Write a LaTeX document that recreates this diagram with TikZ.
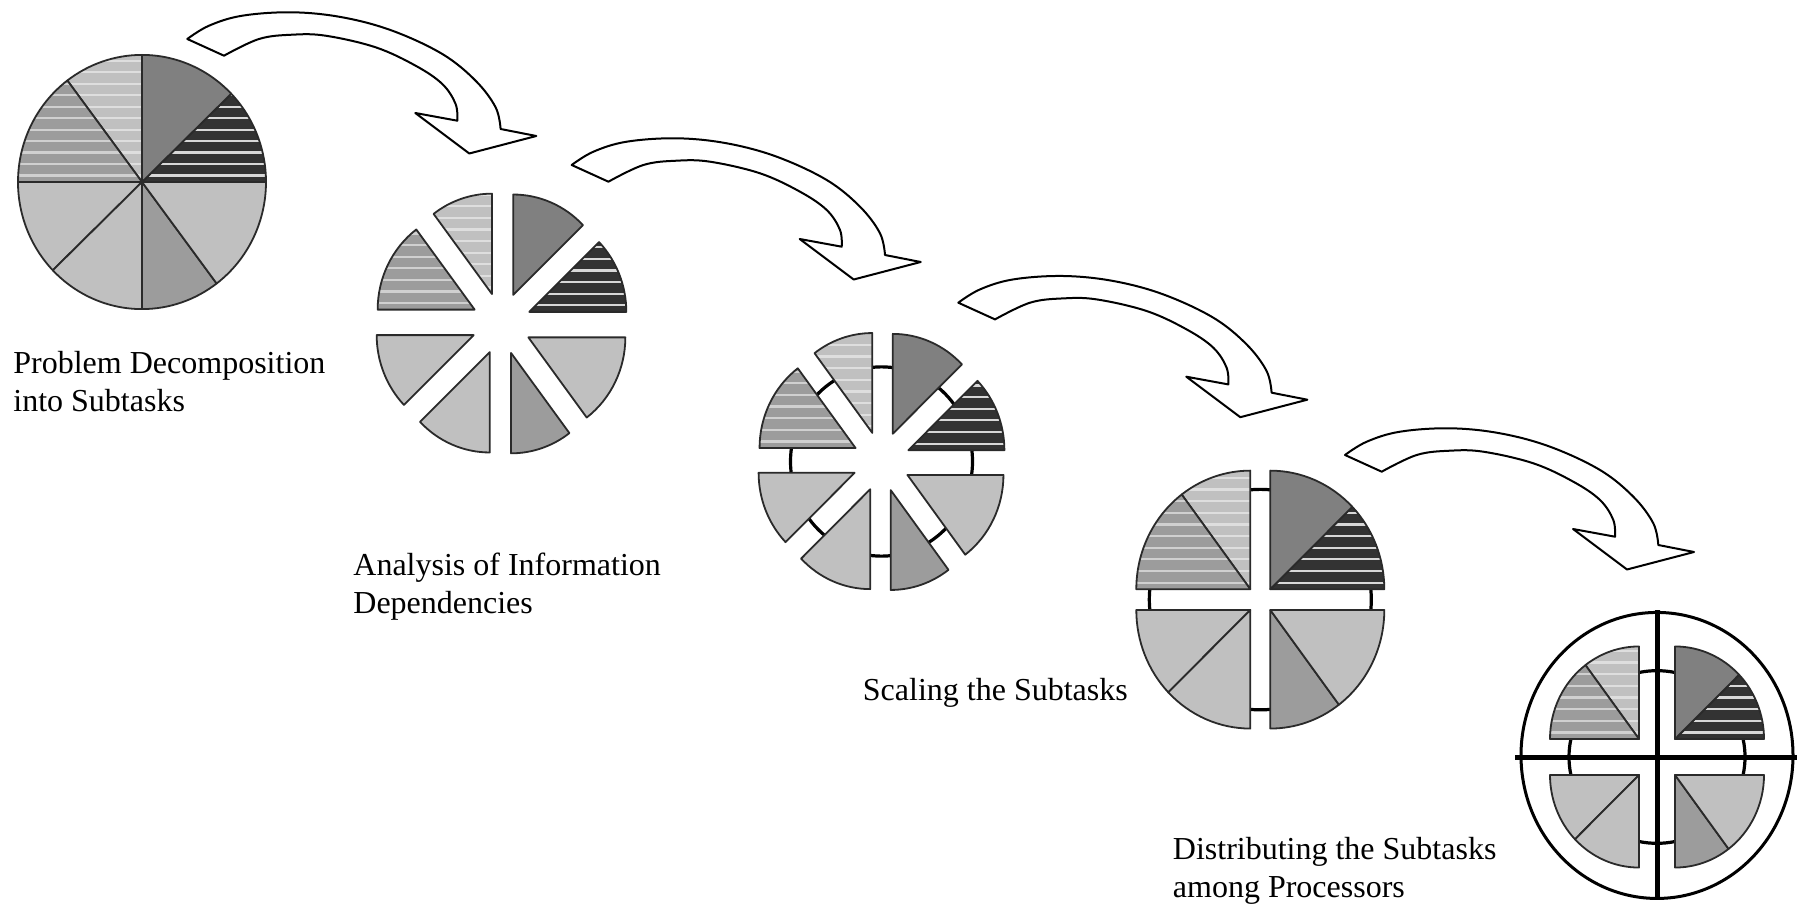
\documentclass[tikz,border=0pt]{standalone}
\usepackage{fontspec}
\setmainfont{Liberation Serif}
\definecolor{cDark}{HTML}{333333}
\definecolor{cDarkLine}{HTML}{D8D8D8}
\definecolor{cGray}{HTML}{808080}
\definecolor{cMid}{HTML}{9C9C9C}
\definecolor{cMidLine}{HTML}{D0D0D0}
\definecolor{cLight}{HTML}{C0C0C0}
\definecolor{cLightLine}{HTML}{DEDEDE}
\definecolor{cEdge}{HTML}{2A2A2A}

% one pie slice: #1 start angle, #2 end angle, #3 radius, #4 shift of the apex,
% #5 fill colour, #6 colour of the horizontal stripes (empty for none)
\newcommand\piesector[6]{%
  \begin{scope}[shift={#4}]
    \fill[#5] (0,0) -- (#1:#3) arc[start angle=#1, end angle=#2, radius=#3] -- cycle;
    \ifx\relax#6\relax\else
      \begin{scope}
        \clip (0,0) -- (#1:#3) arc[start angle=#1, end angle=#2, radius=#3] -- cycle;
        \foreach \k in {0,...,11}
          \draw[#6, line width=1.1pt] (-#3,{6.3+11.2*\k}) -- (#3,{6.3+11.2*\k});
      \end{scope}
    \fi
    \draw[sectoredge] (0,0) -- (#1:#3) arc[start angle=#1, end angle=#2, radius=#3] -- cycle;
  \end{scope}}

% the eight subtasks: #1 radius, #2..#9 shift of each slice
\newcommand\eightsectors[9]{%
  \piesector{0}{44}{#1}{#2}{cDark}{cDarkLine}
  \piesector{44}{90}{#1}{#3}{cGray}{}
  \piesector{90}{127}{#1}{#4}{cLight}{cLightLine}
  \piesector{127}{180}{#1}{#5}{cMid}{cMidLine}
  \piesector{180}{224}{#1}{#6}{cLight}{}
  \piesector{224}{270}{#1}{#7}{cLight}{}
  \piesector{270}{307}{#1}{#8}{cMid}{}
  \piesector{307}{360}{#1}{#9}{cLight}{}}

% curved block arrow, placed by the upper corner of its tail
\newcommand\bentarrow[1]{%
  \begin{scope}[shift={#1}]
    \draw[bigarrow] plot[smooth, tension=0.6] coordinates {(0,0) (21.7,-13.3) (55,-23.3) (105,-26.7) (155,-21.7) (205,-8.3) (255,15) (288.3,41.7) (308.3,68.3) (313.3,90)}
      -- (349,97) -- (282,114.5) -- (228,74)
      -- plot[smooth, tension=0.6] coordinates {(270,81.7) (268.3,65) (255,45) (228.3,26.7) (188.3,8.3) (138.3,-3.3) (105,-4.3) (71.7,0) (36.7,16.7)} -- cycle;
  \end{scope}}

\begin{document}
\begin{tikzpicture}[x=0.5pt, y=-0.5pt,
  sectoredge/.style={draw=cEdge, line width=0.9pt, line join=round},
  link/.style={draw=black, line width=1.6pt},
  ring/.style={draw=black, line width=1.5pt},
  crossbar/.style={draw=black, line width=2.5pt},
  bigarrow/.style={draw=black, fill=white, line width=1pt, line join=round},
  caption/.style={inner sep=0pt, anchor=base west, font=\fontsize{16pt}{19pt}\selectfont}]

\fill[white] (0,0) rectangle (1799,909);
\useasboundingbox (0,0) rectangle (1799,909);

% step 1: the whole problem
\begin{scope}[shift={(142,182)}, yscale=-1.025]
  \eightsectors{124}{(0,0)}{(0,0)}{(0,0)}{(0,0)}{(0,0)}{(0,0)}{(0,0)}{(0,0)}
\end{scope}

% step 2: separated subtasks
\begin{scope}[shift={(501.5,323.5)}, yscale=-1.035]
  \eightsectors{97}{(22:30)}{(67:30)}{(108.5:30)}{(153.5:30)}{(202:30)}{(247:30)}{(288.5:30)}{(333.5:30)}
\end{scope}

% step 3: subtasks with their dependencies
\begin{scope}[shift={(881.5,461.5)}, yscale=-1.04]
  \draw[link] (0,0) circle[radius=91];
  \eightsectors{96}{(22:29)}{(67:29)}{(108.5:29)}{(153.5:29)}{(202:29)}{(247:29)}{(288.5:29)}{(333.5:29)}
\end{scope}

% step 4: subtasks grouped in four
\begin{scope}[shift={(1260.3,599.6)}, yscale=-1.04]
  \draw[link] (0,0) circle[x radius=111, y radius=106];
  \eightsectors{114}{(10,10)}{(10,10)}{(-10,10)}{(-10,10)}{(-10,-10)}{(-10,-10)}{(10,-10)}{(10,-10)}
\end{scope}

% step 5: groups assigned to four processors
\begin{scope}[shift={(1657,757)}, yscale=-1.04]
  \draw[link] (0,0) circle[x radius=88, y radius=83];
  \eightsectors{89}{(18,17.3)}{(18,17.3)}{(-18,17.3)}{(-18,17.3)}{(-18,-17.3)}{(-18,-17.3)}{(18,-17.3)}{(18,-17.3)}
  \draw[ring] (0,1.5) circle[x radius=136, y radius=137.5];
  \draw[crossbar] (0,141) -- (0,-137.5);
  \draw[crossbar] (-142,0) -- (140,0);
\end{scope}

% arrows between the steps
\bentarrow{(187.3,39)}
\bentarrow{(571.7,165)}
\bentarrow{(958.3,302.7)}
\bentarrow{(1345,455)}

% captions
\node[caption] (cap1a) at (13,373.3) {Problem Decomposition};
\node[caption] (cap1b) at (13,411.7) {into Subtasks};
\node[caption] (cap2a) at (353,575) {Analysis of Information};
\node[caption] (cap2b) at (353,613.3) {Dependencies};
\node[caption] (cap3) at (862.5,700) {Scaling the Subtasks};
\node[caption] (cap4a) at (1172.5,859) {Distributing the Subtasks};
\node[caption] (cap4b) at (1172.5,897) {among Processors};
\end{tikzpicture}
\end{document}
